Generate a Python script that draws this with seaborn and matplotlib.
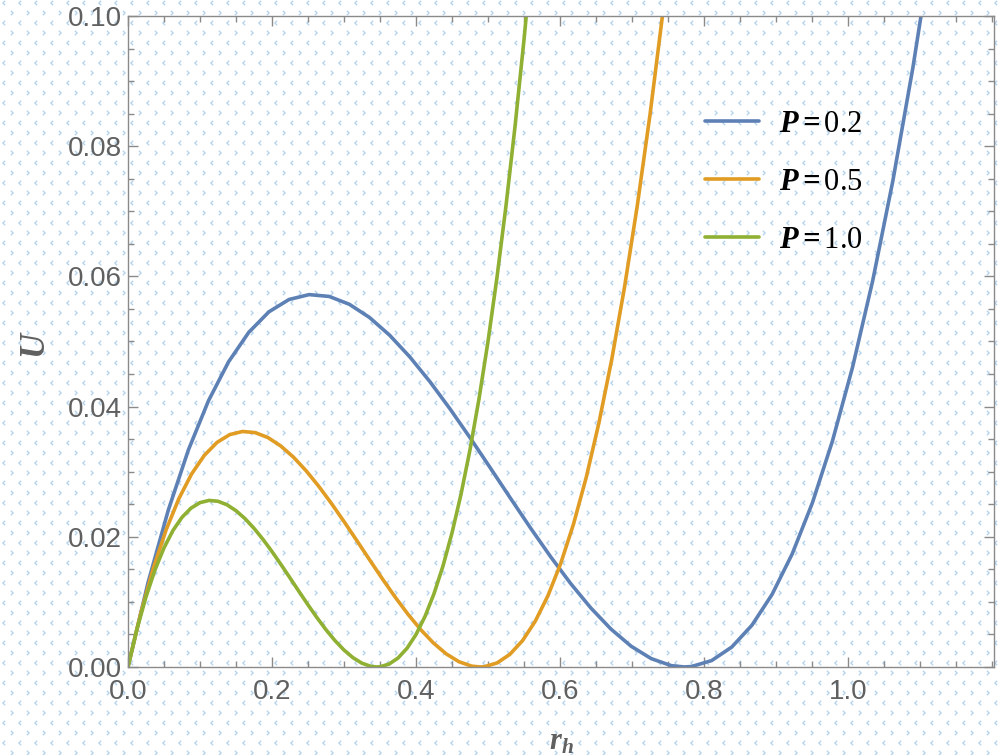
import numpy as np
import pandas as pd
import matplotlib
matplotlib.use("Agg")
import matplotlib.pyplot as plt
from matplotlib.path import Path
from matplotlib.ticker import MultipleLocator, FormatStrFormatter
import seaborn as sns

# ---------------- data ----------------
r_p02 = [0.0, 0.02795, 0.05590, 0.08385, 0.11180, 0.13975, 0.16771, 0.19566, 0.22361,
         0.25156, 0.27951, 0.30746, 0.33541, 0.36336, 0.39131, 0.41926, 0.44721, 0.47516,
         0.50312, 0.53107, 0.55902, 0.58697, 0.61492, 0.64287, 0.67082, 0.69877, 0.72672,
         0.75467, 0.77256, 0.78262, 0.81057, 0.83853, 0.86648, 0.89443, 0.92238, 0.95033,
         0.97828, 1.00623, 1.03418, 1.06213, 1.09008, 1.11803]
u_p02 = [0.0, 0.012983, 0.024051, 0.033317, 0.040891, 0.046881, 0.051398, 0.054549,
         0.056447, 0.057201, 0.056919, 0.055714, 0.053693, 0.050967, 0.047644, 0.043836,
         0.039652, 0.035202, 0.030596, 0.025943, 0.021352, 0.016934, 0.012799, 0.009056,
         0.005814, 0.003186, 0.001279, 0.000201, 0.0, 0.000067, 0.000982, 0.003059,
         0.006406, 0.011131, 0.017350, 0.025165, 0.034690, 0.046036, 0.059309, 0.074624,
         0.092085, 0.111803]

r_p05 = [0.0, 0.01768, 0.03536, 0.05303, 0.07071, 0.08839, 0.10607, 0.12374, 0.14142,
         0.15910, 0.17678, 0.19445, 0.21213, 0.22981, 0.24749, 0.26517, 0.28284, 0.30052,
         0.31820, 0.33588, 0.35355, 0.37123, 0.38891, 0.40659, 0.42426, 0.44194, 0.45962,
         0.47730, 0.48861, 0.49497, 0.51265, 0.53033, 0.54801, 0.56569, 0.58336, 0.60104,
         0.61872, 0.63640, 0.65407, 0.67175, 0.68943, 0.70711, 0.72478, 0.74246, 0.76014]
u_p05 = [0.0, 0.008211, 0.015211, 0.021072, 0.025862, 0.029651, 0.032507, 0.034500,
         0.035700, 0.036177, 0.036000, 0.035237, 0.033958, 0.032234, 0.030133, 0.027725,
         0.025078, 0.022264, 0.019351, 0.016408, 0.013504, 0.010710, 0.008095, 0.005728,
         0.003677, 0.002015, 0.000809, 0.000127, 0.0, 0.000042, 0.000621, 0.001935,
         0.004052, 0.007040, 0.010973, 0.015915, 0.021940, 0.029116, 0.037511, 0.047196,
         0.058240, 0.070711, 0.084679, 0.100216, 0.117391]

r_p10 = [0.0, 0.0125, 0.025, 0.0375, 0.05, 0.0625, 0.075, 0.0875, 0.10, 0.1125, 0.125,
         0.1375, 0.15, 0.1625, 0.175, 0.1875, 0.20, 0.2125, 0.225, 0.2375, 0.25, 0.2625,
         0.275, 0.2875, 0.30, 0.3125, 0.325, 0.3375, 0.3455, 0.35, 0.3625, 0.375, 0.3875,
         0.40, 0.4125, 0.425, 0.4375, 0.45, 0.4625, 0.475, 0.4875, 0.50, 0.5125, 0.525,
         0.5375, 0.55, 0.5625]
u_p10 = [0.0, 0.005806, 0.010756, 0.014900, 0.018287, 0.020966, 0.022986, 0.024395,
         0.025244, 0.025581, 0.025455, 0.024916, 0.024012, 0.022793, 0.021307, 0.019604,
         0.017733, 0.015743, 0.013683, 0.011602, 0.009549, 0.007573, 0.005724, 0.004050,
         0.002600, 0.001425, 0.000572, 0.000090, 0.0, 0.000030, 0.000439, 0.001368,
         0.002865, 0.004978, 0.007759, 0.011254, 0.015514, 0.020588, 0.026524, 0.033373,
         0.041182, 0.050000, 0.059877, 0.070862, 0.083008, 0.096356, 0.110961]

labels = [r"$\mathbf{P{=}}$0.2", r"$\mathbf{P{=}}$0.5", r"$\mathbf{P{=}}$1.0"]
colors = ["#5E81B5", "#E19C24", "#8FB032"]
x_ticks = [0.0, 0.2, 0.4, 0.6, 0.8, 1.0]
y_ticks = [0.00, 0.02, 0.04, 0.06, 0.08, 0.10]

frames = []
for lab, r, u in zip(labels, [r_p02, r_p05, r_p10], [u_p02, u_p05, u_p10]):
    frames.append(pd.DataFrame({"r": r, "U": u, "series": lab}))
df = pd.concat(frames, ignore_index=True)

# ---------------- style ----------------
sns.set_theme(style="ticks")
plt.rcParams["font.family"] = ["Liberation Sans", "DejaVu Sans"]
plt.rcParams["mathtext.fontset"] = "custom"
plt.rcParams["mathtext.rm"] = "Liberation Serif"
plt.rcParams["mathtext.it"] = "Liberation Serif:italic"
plt.rcParams["mathtext.bf"] = "Liberation Serif:italic:bold"

fig = plt.figure(figsize=(10.02, 7.55), dpi=100, facecolor="white")

# background watermark-like pattern of tiny chevrons
bg = fig.add_axes([0, 0, 1, 1], zorder=-5)
bg.set_xlim(0, 1002)
bg.set_ylim(755, 0)
bg.axis("off")
left_chev = Path([(0.5, 1.0), (-0.5, 0.0), (0.5, -1.0)],
                 [Path.MOVETO, Path.LINETO, Path.LINETO])
right_chev = Path([(-0.5, 1.0), (0.5, 0.0), (-0.5, -1.0)],
                  [Path.MOVETO, Path.LINETO, Path.LINETO])
gx, gy = np.meshgrid(np.arange(4, 1010, 16), np.arange(3, 760, 20))
bg.scatter(gx.ravel(), gy.ravel(), marker=left_chev, s=10, facecolors="none",
           edgecolors="#b6d3ec", linewidths=1.0)
gx2, gy2 = np.meshgrid(np.arange(12, 1010, 16), np.arange(13, 760, 20))
bg.scatter(gx2.ravel(), gy2.ravel(), marker=right_chev, s=10, facecolors="none",
           edgecolors="#b6d3ec", linewidths=1.0)

ax = fig.add_axes([0.1277, 0.1166, 0.8644, 0.8622])
ax.set_facecolor("none")

sns.lineplot(data=df, x="r", y="U", hue="series", palette=colors, sort=False,
             estimator=None, linewidth=2.6, ax=ax, legend=True)

ax.set_xlim(0, 1.2028)
ax.set_ylim(0, 0.1)
ax.xaxis.set_major_locator(MultipleLocator(0.2))
ax.xaxis.set_minor_locator(MultipleLocator(0.05))
ax.yaxis.set_major_locator(MultipleLocator(0.02))
ax.yaxis.set_minor_locator(MultipleLocator(0.005))
ax.set_xticks(x_ticks)
ax.set_yticks(y_ticks)
ax.xaxis.set_major_formatter(FormatStrFormatter("%.1f"))
ax.yaxis.set_major_formatter(FormatStrFormatter("%.2f"))

for s in ax.spines.values():
    s.set_visible(True)
    s.set_color("#8a8a8a")
    s.set_linewidth(1.0)

ax.tick_params(which="both", direction="in", top=True, right=True,
               color="#8a8a8a", width=1.0, labelcolor="#606060", labelsize=20)
ax.tick_params(which="major", length=7)
ax.tick_params(which="minor", length=4.3)
ax.tick_params(axis="x", which="major", pad=9)
ax.tick_params(axis="y", which="major", pad=4.5)

ax.set_xlabel(r"$\mathbf{r_h}$", fontsize=22, color="#606060")
ax.set_ylabel(r"$\mathbf{U}$", fontsize=25, color="#606060", rotation=90)
ax.xaxis.label.set_verticalalignment("center")
ax.yaxis.label.set_verticalalignment("center")
ax.xaxis.set_label_coords(0.5, -0.114)
ax.yaxis.set_label_coords(-0.107, 0.495)

handles, labs = ax.get_legend_handles_labels()
leg = ax.legend(handles, labs, loc="upper left", bbox_to_anchor=(0.6665, 0.856),
                frameon=False, prop={"family": "Liberation Serif", "size": 22},
                handlelength=1.75, handletextpad=0.65, labelspacing=0.95,
                borderaxespad=0, borderpad=0)
for line in leg.get_lines():
    line.set_linewidth(2.6)
for t in leg.get_texts():
    t.set_color("black")

fig.savefig("out.png", dpi=100, facecolor="white")
